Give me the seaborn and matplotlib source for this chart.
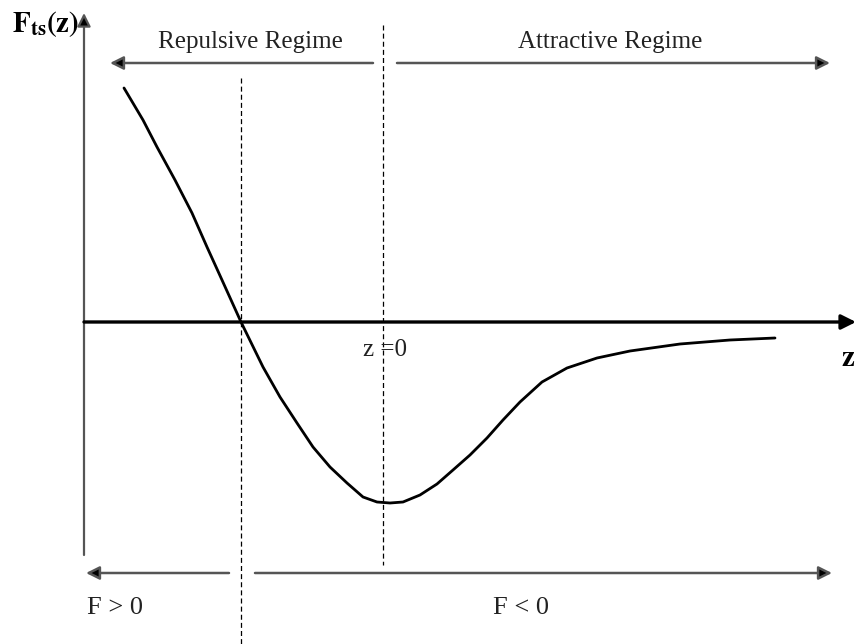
import matplotlib
matplotlib.use("Agg")
import matplotlib.pyplot as plt
import seaborn as sns
import pandas as pd

# Tip-sample force curve F_ts(z) (arbitrary units, z = 0 at the force minimum)
z_values = [-2.59, -2.40, -2.26, -2.08, -1.91, -1.76, -1.61, -1.42, -1.20, -1.03,
            -0.86, -0.70, -0.53, -0.36, -0.20, -0.06, 0.07, 0.20, 0.37, 0.54,
            0.70, 0.87, 1.04, 1.20, 1.37, 1.59, 1.84, 2.14, 2.47, 2.97, 3.47, 3.92]
f_values = [2.34, 2.02, 1.75, 1.42, 1.09, 0.75, 0.42, 0.00, -0.45, -0.75,
            -1.01, -1.25, -1.45, -1.61, -1.75, -1.80, -1.81, -1.80, -1.73, -1.62,
            -1.48, -1.33, -1.16, -0.98, -0.80, -0.60, -0.46, -0.36, -0.29, -0.22, -0.18, -0.16]

# Boundaries: zero crossing of the force and position of the minimum
z_crossing = -1.42
z_minimum = 0.0

regime_labels = ["Repulsive Regime", "Attractive Regime"]
sign_labels = ["F > 0", "F < 0"]
min_label = "z =0"

sns.set_theme(style="white")
plt.rcParams["font.family"] = ["Liberation Serif", "DejaVu Serif"]
plt.rcParams["mathtext.fontset"] = "stix"

fig = plt.figure(figsize=(8.56, 6.44), dpi=100)
ax = fig.add_axes([0, 0, 1, 1])
ax.set_xlim(-3.83, 4.73)
ax.set_ylim(-3.22, 3.22)
ax.axis("off")

df = pd.DataFrame({"z": z_values, "F": f_values})
sns.lineplot(data=df, x="z", y="F", sort=False, estimator=None,
             color="black", lw=2.0, ax=ax, solid_joinstyle="round",
             solid_capstyle="round")

gray = "#555555"


def arrow(x0, y0, x1, y1, color=gray, lw=1.8, head_color="black", scale=20):
    ax.annotate("", xy=(x1, y1), xytext=(x0, y0), annotation_clip=False,
                arrowprops=dict(arrowstyle="-|>", lw=lw, color=color,
                                fc=head_color, ec=color,
                                mutation_scale=scale, shrinkA=0, shrinkB=0))


# Coordinate axes
axis_x = -2.99
arrow(axis_x, -2.33, axis_x, 3.09, color=gray, lw=1.6)
arrow(axis_x, 0.0, 4.73, 0.0, color="black", lw=2.4, head_color="black", scale=22)

# Dashed boundaries
ax.plot([z_crossing, z_crossing], [2.44, -3.3], ls=(0, (4, 2.5)), color="black", lw=0.9)
ax.plot([z_minimum, z_minimum], [2.97, -2.43], ls=(0, (4, 2.5)), color="black", lw=0.9)

# Regime arrows along the top
top_y = 2.59
arrow(-0.10, top_y, -2.73, top_y)
arrow(0.14, top_y, 4.47, top_y)
ax.text(-1.33, 2.80, regime_labels[0], ha="center", va="center", fontsize=18, color="#222222")
ax.text(2.27, 2.80, regime_labels[1], ha="center", va="center", fontsize=18, color="#222222")

# Force-sign arrows along the bottom
bot_y = -2.51
arrow(-1.54, bot_y, -2.97, bot_y)
arrow(-1.28, bot_y, 4.49, bot_y)
ax.text(-2.68, -2.86, sign_labels[0], ha="center", va="center", fontsize=19, color="#222222")
ax.text(1.38, -2.86, sign_labels[1], ha="center", va="center", fontsize=19, color="#222222")

ax.text(0.02, -0.28, min_label, ha="center", va="center", fontsize=18, color="#222222")

# Axis titles
ax.text(-3.71, 2.98, r"$\mathbf{F}_{\mathbf{ts}}\mathbf{(z)}$", ha="left", va="center",
        fontsize=21, color="black")
ax.text(4.72, -0.37, r"$\mathbf{z}$", ha="right", va="center", fontsize=21, color="black")

fig.savefig("out.png", dpi=100)
